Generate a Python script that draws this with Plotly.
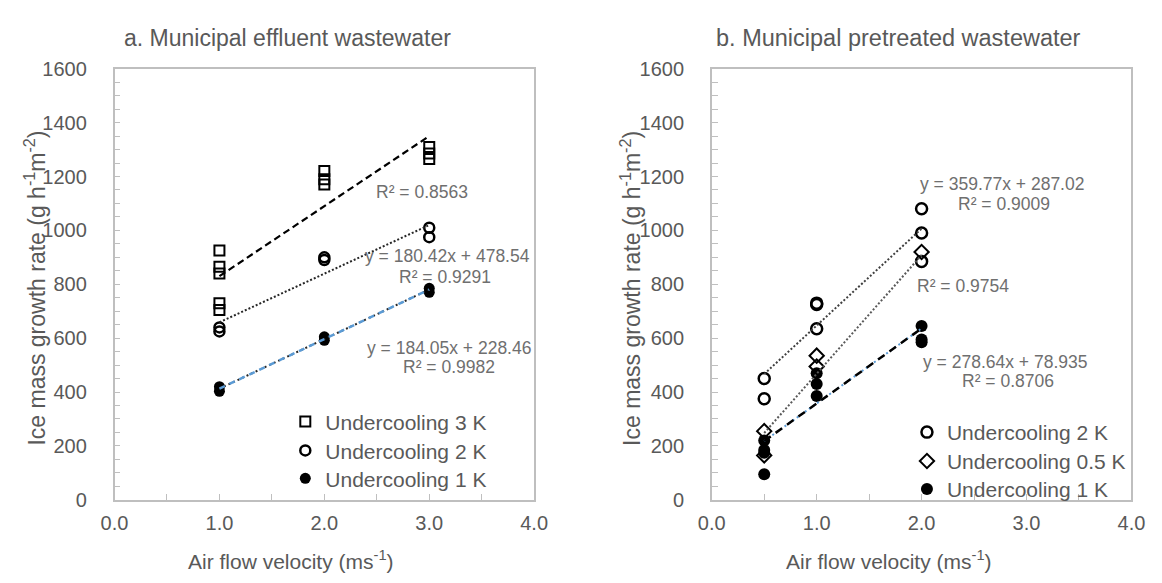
import numpy as np
import plotly.graph_objects as go

W, H = 1162, 583

# ---------------- data: panel a (municipal effluent wastewater) ----------------
a_x_3k = [1, 1, 1, 1, 1, 2, 2, 2, 3, 3, 3]
a_y_3k = [925, 865, 840, 730, 705, 1220, 1190, 1170, 1310, 1285, 1265]
a_x_2k = [1, 1, 2, 2, 3, 3]
a_y_2k = [640, 625, 900, 890, 1010, 975]
a_x_1k = [1, 1, 2, 2, 3, 3]
a_y_1k = [420, 403, 605, 592, 785, 770]
a_slopes = [260.0, 180.42, 184.05]        # 3 K, 2 K, 1 K
a_intercepts = [570.0, 478.54, 228.46]
a_fit_range = [1.0, 3.0]

# ---------------- data: panel b (municipal pretreated wastewater) --------------
b_x_2k = [0.5, 0.5, 1, 1, 1, 2, 2, 2]
b_y_2k = [450, 375, 730, 725, 635, 1080, 990, 885]
b_x_05k = [0.5, 0.5, 1, 1, 2]
b_y_05k = [255, 165, 535, 495, 920]
b_x_1k = [0.5, 0.5, 0.5, 0.5, 1, 1, 1, 2, 2, 2]
b_y_1k = [220, 185, 175, 95, 470, 430, 385, 645, 595, 585]
b_slopes = [359.77, 440.0, 278.64]        # 2 K, 0.5 K, 1 K
b_intercepts = [287.02, 28.0, 78.935]
b_fit_range = [0.5, 2.0]

x_ticks = [0, 1, 2, 3, 4]
y_ticks = [0, 200, 400, 600, 800, 1000, 1200, 1400, 1600]

FONT = "Liberation Sans, Arial, sans-serif"
TXT = "#595959"
EQ = "#6f6f6f"
AX = "#bfbfbf"


def px(x):
    return x / W


def py(y):
    return 1 - y / H


def fit(slope, intercept, rng):
    xs = np.array(rng)
    return xs, slope * xs + intercept


fig = go.Figure()

# ---- panel a markers ----
fig.add_trace(go.Scatter(x=a_x_3k, y=a_y_3k, mode="markers", name="Undercooling 3 K",
                         marker=dict(symbol="square-open", size=10, color="black", line=dict(width=2)),
                         xaxis="x", yaxis="y", legend="legend"))
fig.add_trace(go.Scatter(x=a_x_2k, y=a_y_2k, mode="markers", name="Undercooling 2 K",
                         marker=dict(symbol="circle-open", size=10, color="black", line=dict(width=2.5)),
                         xaxis="x", yaxis="y", legend="legend2"))
fig.add_trace(go.Scatter(x=a_x_1k, y=a_y_1k, mode="markers", name="Undercooling 1 K",
                         marker=dict(symbol="circle", size=11, color="black"),
                         xaxis="x", yaxis="y", legend="legend3"))

# ---- panel a trend lines ----
xs, ys = fit(a_slopes[0], a_intercepts[0], a_fit_range)
fig.add_trace(go.Scatter(x=xs, y=ys, mode="lines", showlegend=False, hoverinfo="skip",
                         line=dict(color="black", width=2.2, dash="7px,4px"), xaxis="x", yaxis="y"))
xs, ys = fit(a_slopes[1], a_intercepts[1], a_fit_range)
fig.add_trace(go.Scatter(x=xs, y=ys, mode="lines", showlegend=False, hoverinfo="skip",
                         line=dict(color="#262626", width=2, dash="2px,2px"), xaxis="x", yaxis="y"))
xs, ys = fit(a_slopes[2], a_intercepts[2], a_fit_range)
fig.add_trace(go.Scatter(x=xs, y=ys, mode="lines", showlegend=False, hoverinfo="skip",
                         line=dict(color="#262626", width=2, dash="2px,3px"), xaxis="x", yaxis="y"))
fig.add_trace(go.Scatter(x=xs, y=ys, mode="lines", showlegend=False, hoverinfo="skip",
                         line=dict(color="#5b9bd5", width=2.5, dash="6px,5px"), xaxis="x", yaxis="y"))

# ---- panel b markers ----
fig.add_trace(go.Scatter(x=b_x_2k, y=b_y_2k, mode="markers", name="Undercooling 2 K",
                         marker=dict(symbol="circle-open", size=11, color="black", line=dict(width=2.5)),
                         xaxis="x2", yaxis="y2", legend="legend4"))
fig.add_trace(go.Scatter(x=b_x_05k, y=b_y_05k, mode="markers", name="Undercooling 0.5 K",
                         marker=dict(symbol="diamond-open", size=11, color="black", line=dict(width=2)),
                         xaxis="x2", yaxis="y2", legend="legend5"))
fig.add_trace(go.Scatter(x=b_x_1k, y=b_y_1k, mode="markers", name="Undercooling 1 K",
                         marker=dict(symbol="circle", size=12, color="black"),
                         xaxis="x2", yaxis="y2", legend="legend6"))

# ---- panel b trend lines ----
xs, ys = fit(b_slopes[0], b_intercepts[0], b_fit_range)
fig.add_trace(go.Scatter(x=xs, y=ys, mode="lines", showlegend=False, hoverinfo="skip",
                         line=dict(color="#404040", width=2, dash="2px,2px"), xaxis="x2", yaxis="y2"))
xs, ys = fit(b_slopes[1], b_intercepts[1], b_fit_range)
fig.add_trace(go.Scatter(x=xs, y=ys, mode="lines", showlegend=False, hoverinfo="skip",
                         line=dict(color="#595959", width=2, dash="2px,2px"), xaxis="x2", yaxis="y2"))
xs, ys = fit(b_slopes[2], b_intercepts[2], b_fit_range)
fig.add_trace(go.Scatter(x=xs, y=ys, mode="lines", showlegend=False, hoverinfo="skip",
                         line=dict(color="#5b9bd5", width=2, dash="2px,3px"), xaxis="x2", yaxis="y2"))
fig.add_trace(go.Scatter(x=xs, y=ys, mode="lines", showlegend=False, hoverinfo="skip",
                         line=dict(color="black", width=2.5, dash="8px,6px"), xaxis="x2", yaxis="y2"))

ydom = [py(508), py(60)]


def xaxis_cfg(domain, anchor):
    return dict(domain=domain, anchor=anchor, range=[0, 4], tickvals=x_ticks,
                ticktext=[f"{v:.1f}" for v in x_ticks],
                showline=True, linecolor=AX, linewidth=1.5, mirror=True,
                ticks="inside", ticklen=6, tickcolor=AX, tickwidth=1.2,
                minor=dict(dtick=0.5, ticks="inside", ticklen=6, tickcolor=AX, tickwidth=1.2),
                showgrid=False, zeroline=False, ticklabelstandoff=4,
                tickfont=dict(family=FONT, size=20, color=TXT))


def yaxis_cfg(anchor):
    return dict(domain=ydom, anchor=anchor, range=[0, 1600], tickvals=y_ticks,
                showline=True, linecolor=AX, linewidth=1.5, mirror=True,
                ticks="inside", ticklen=6, tickcolor=AX, tickwidth=1.2,
                minor=dict(dtick=50, ticks="inside", ticklen=6, tickcolor=AX, tickwidth=1.2),
                showgrid=False, zeroline=False, ticklabelstandoff=22,
                tickfont=dict(family=FONT, size=20, color=TXT))


legend_common = dict(font=dict(family=FONT, size=21, color=TXT), bgcolor="rgba(0,0,0,0)",
                     xanchor="left", yanchor="middle", borderwidth=0, itemwidth=30)

layout = dict(
    width=W, height=H, margin=dict(l=0, r=0, t=0, b=0),
    paper_bgcolor="white", plot_bgcolor="white",
    font=dict(family=FONT, color=TXT),
    xaxis=xaxis_cfg([px(103), px(533)], "y"),
    yaxis=yaxis_cfg("x"),
    xaxis2=xaxis_cfg([px(715), px(1145)], "y2"),
    yaxis2=yaxis_cfg("x2"),
)
# one legend per entry, placed like the reference
leg_pos = {"legend": (322, 422), "legend2": (322, 452), "legend3": (322, 481),
           "legend4": (959, 433), "legend5": (959, 463), "legend6": (959, 492)}
for k, (tx, ty) in leg_pos.items():
    layout[k] = dict(legend_common, x=px(tx - 44), y=py(ty + 5))

fig.update_layout(**layout)

ann = []


def text(x, y, s, size=17.5, color=EQ, angle=0):
    ann.append(dict(x=px(x), y=py(y), xref="paper", yref="paper", text=s, showarrow=False,
                    textangle=angle, xanchor="center", yanchor="middle",
                    font=dict(family=FONT, size=size, color=color)))


# titles
text(280, 28, "a. Municipal effluent wastewater", size=23, color=TXT)
text(906, 28, "b. Municipal pretreated wastewater", size=23.5, color=TXT)
# axis titles
text(284, 571, "Air flow velocity (ms<sup>-1</sup>)", size=21, color=TXT)
text(897, 571, "Air flow velocity (ms<sup>-1</sup>)", size=21, color=TXT)
text(22, 288, "Ice mass growth rate (g h<sup>-1</sup>m<sup>-2</sup>)", size=23, color=TXT, angle=-90)
text(632, 288, "Ice mass growth rate (g h<sup>-1</sup>m<sup>-2</sup>)", size=23, color=TXT, angle=-90)

# equations panel a
text(418, 188, "R² = 0.8563")
text(444, 255, "y = 180.42x + 478.54")
text(442, 276, "R² = 0.9291")
text(446, 350, "y = 184.05x + 228.46")
text(446, 370, "R² = 0.9982")
# equations panel b
text(1012, 180, "y = 359.77x + 287.02")
text(1014, 201, "R² = 0.9009")
text(972, 286, "R² = 0.9754")
text(1015, 365, "y = 278.64x + 78.935")
text(1019, 385, "R² = 0.8706")

fig.update_layout(annotations=ann)

fig.write_html("out.html")
